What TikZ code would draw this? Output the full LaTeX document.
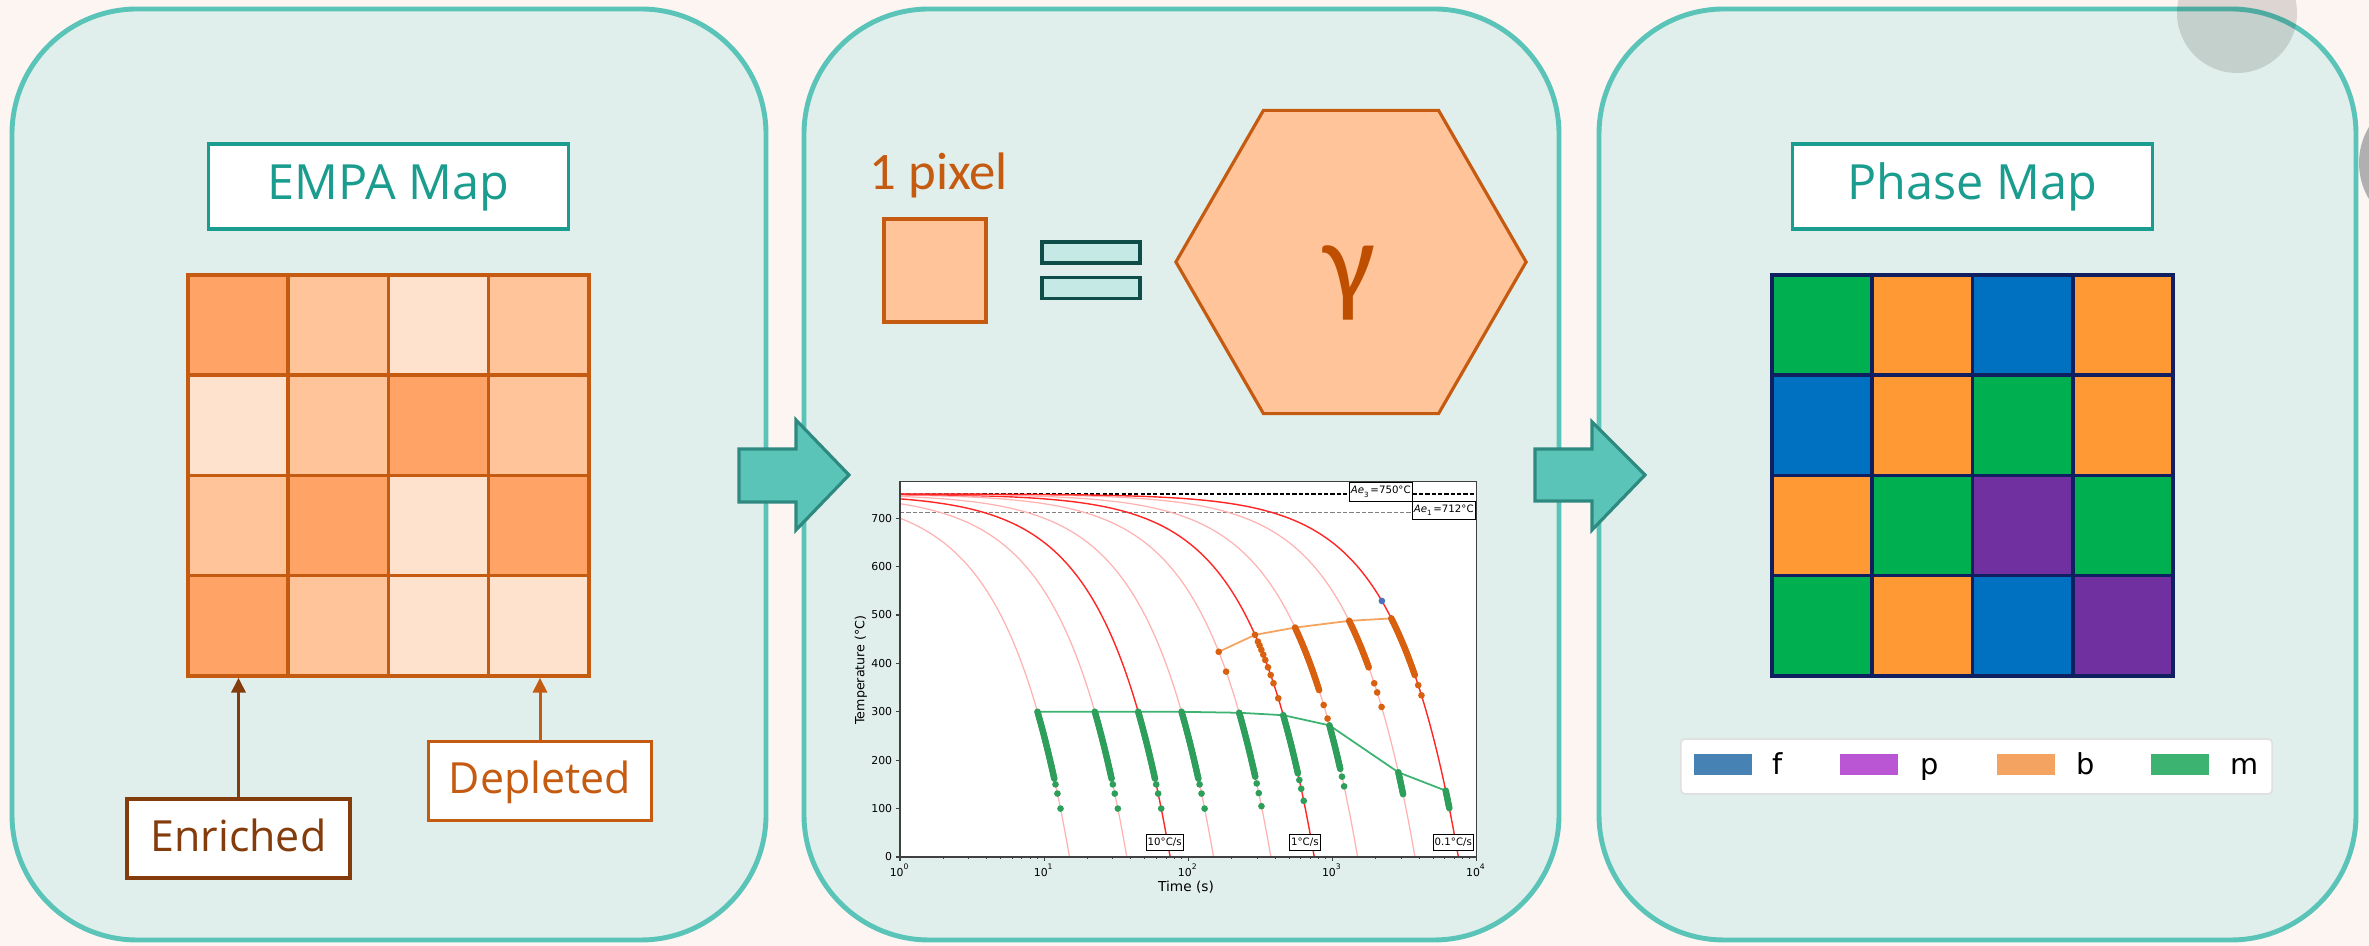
\documentclass[tikz,border=0pt]{standalone}
\usepackage{fontspec}
\setmainfont{Open Sans}
\newfontfamily\plotfont{DejaVu Sans}
\newfontfamily\pixfont{Carlito}
\usetikzlibrary{arrows.meta, shapes.geometric}

\definecolor{bgpink}{HTML}{FDF5F2}
\definecolor{panelfill}{HTML}{E0EFEB}
\definecolor{panelline}{HTML}{5BC4B8}
\definecolor{arrowline}{HTML}{2E8A80}
\definecolor{titleteal}{HTML}{1A9C8E}
\definecolor{emline}{HTML}{C55A11}
\definecolor{emd}{HTML}{FFA466}
\definecolor{emm}{HTML}{FFC49A}
\definecolor{eml}{HTML}{FFE2CE}
\definecolor{enrbrown}{HTML}{843C0C}
\definecolor{eqfill}{HTML}{C5EAE5}
\definecolor{eqline}{HTML}{0E4D48}
\definecolor{gammacol}{HTML}{BF4F00}
\definecolor{navy}{HTML}{0F1F5F}
\definecolor{phg}{HTML}{00B050}
\definecolor{pho}{HTML}{FF9933}
\definecolor{phb}{HTML}{0070C0}
\definecolor{php}{HTML}{7030A0}
\definecolor{keyf}{HTML}{4682B4}
\definecolor{keyp}{HTML}{BA55D3}
\definecolor{keyb}{HTML}{F4A460}
\definecolor{keym}{HTML}{3CB371}
\definecolor{mdotc}{HTML}{2E9E5B}
\definecolor{bdotc}{HTML}{D9600F}
\definecolor{fdotc}{HTML}{4A72B8}

\begin{document}
\begin{tikzpicture}[x=0.01cm, y=0.01cm,
  panel/.style={draw=panelline, fill=panelfill, line width=1.4pt, rounded corners=1.25cm},
  blockarrow/.style={draw=arrowline, fill=panelline, line width=0.9pt},
  titlebox/.style={draw=titleteal, fill=white, line width=0.9pt, text=titleteal,
    minimum width=3.59cm, minimum height=0.85cm, inner sep=0pt,
    text height=0.714em, text depth=0pt, font=\fontsize{13.8}{16}\selectfont},
  tagbox/.style={fill=white, line width=0.9pt, inner sep=0pt,
    minimum width=2.23cm, minimum height=0.79cm,
    text height=0.714em, text depth=0pt, font=\fontsize{12.2}{14}\selectfont},
  emcell/.style={draw=emline, line width=1pt, minimum size=1.0025cm, inner sep=0pt},
  phcell/.style={draw=navy, line width=1pt, minimum size=1.0025cm, inner sep=0pt},
  eqbar/.style={draw=eqline, fill=eqfill, line width=1pt, minimum width=0.98cm,
    minimum height=0.21cm, inner sep=0pt},
  keypatch/.style={minimum width=0.58cm, minimum height=0.21cm, inner sep=0pt},
  cool/.style={red!30, line width=0.35pt},
  coolmark/.style={red!85, line width=0.4pt},
  mdot/.style={fill=mdotc},
  bdot/.style={fill=bdotc},
  axisline/.style={black!75, line width=0.3pt},
  plotbox/.style={draw=black, fill=white, line width=0.25pt, inner sep=0.5pt,
    font=\plotfont\fontsize{2.9}{3}\selectfont},
  ticklbl/.style={font=\plotfont\fontsize{3.1}{3.5}\selectfont, inner sep=0.6pt}
]
  \useasboundingbox (0,0) rectangle (2369,946);
  \clip (0,0) rectangle (2369,946);

  % fondo
  \fill[bgpink] (0,0) rectangle (2369,946);

  % pannelli
  \draw[panel] (12,6) rectangle (766,937);
  \draw[panel] (804,6) rectangle (1559,937);
  \draw[panel] (1599,6) rectangle (2356,937);

  % cerchi grigi
  \fill[black, opacity=0.13] (2237,933) circle (60);
  \fill[black!31] (2429,783) circle (70);

  % EMPA map
  \node[titlebox] (empa) at (388.5,759.5) {EMPA Map};
  \foreach \row [count=\i] in {{d,m,l,m},{l,m,d,m},{m,d,l,d},{d,m,l,l}}
    \foreach \c [count=\j] in \row
      \node[emcell, fill=em\c] (e-\i-\j) at ({188+100.25*(\j-0.5)},{671-100.25*(\i-0.5)}) {};

  \node[tagbox, draw=enrbrown, text=enrbrown] (enr) at (238.5,107.5) {Enriched};
  \node[tagbox, draw=emline, text=emline] (dep) at (540,165) {Depleted};
  \draw[enrbrown, line width=0.85pt, -{Triangle[width=4pt,length=4.2pt]}] (enr.north) -- (enr.north |- e-4-1.south);
  \draw[emline, line width=0.85pt, -{Triangle[width=4pt,length=4.2pt]}] (dep.north) -- (dep.north |- e-4-4.south);

  % pixel = gamma
  \node[anchor=base west, inner sep=0pt, text=emline, font=\pixfont\fontsize{15}{18}\selectfont] (pixlbl) at (869,756) {1 pixel};
  \node[draw=emline, fill=emm, line width=0.9pt, minimum width=1.02cm, minimum height=1.03cm, inner sep=0pt] (pix) at (935,675.5) {};
  \node[eqbar] (eqtop) at (1091,693.5) {};
  \node[eqbar] (eqbot) at (1091,658) {};
  \node[regular polygon, regular polygon sides=6, minimum size=3.5cm, inner sep=0pt,
    draw=emline, fill=emm, line width=0.9pt] (hex) at (1351,684) {};
  \node[anchor=base, inner sep=0pt, text=gammacol, font=\pixfont\fontsize{33}{33}\selectfont] (gam) at (1349,644) {γ};

  % grafico CCT
  \begin{scope}[shift={(900,89)}, x=1.44cm, y=0.004843cm]
    \fill[white] (0,0) rectangle (4,775);
    \draw[black, line width=0.5pt, dash pattern=on 1.2pt off 0.6pt] (0,750) -- (4,750);
    \draw[gray, line width=0.5pt, dash pattern=on 1.2pt off 0.6pt] (0,712) -- (4,712);

    \foreach \r/\s in {50/cool, 20/cool, 10/coolmark, 5/cool, 2/cool, 1/coolmark, 0.5/cool, 0.2/cool, 0.1/coolmark} {
      \pgfmathsetmacro\tend{log10(750/\r)}
      \draw[\s] plot[domain=0:\tend, samples=120, smooth] (\x,{750-\r*10^\x});
    }

    \foreach \r/\T [count=\i] in {50/300, 20/300, 10/300, 5/300, 2/298, 1/293, 0.5/272, 0.2/175, 0.1/137}
      \coordinate (ms\i) at ({log10((750-\T)/\r)},\T);
    \foreach \r/\T [count=\i] in {2/424, 1/459, 0.5/474, 0.2/488, 0.1/493}
      \coordinate (bs\i) at ({log10((750-\T)/\r)},\T);
    \draw[keym, line width=0.5pt] (ms1) \foreach \i in {2,...,9} {-- (ms\i)};
    \draw[keyb, line width=0.5pt] (bs1) \foreach \i in {2,...,5} {-- (bs\i)};

    % martensite
    \foreach \r/\ta/\tb in {50/300/160, 20/300/160, 10/300/160, 5/300/160, 2/298/165, 1/293/172, 0.5/272/180, 0.2/175/128, 0.1/137/100} {
      \pgfmathtruncatemacro\n{(\ta-\tb)/3}
      \foreach \k in {0,...,\n}
        \fill[mdot] ({log10((750-\ta+3*\k)/\r)},{\ta-3*\k}) circle (0.95pt);
    }
    \foreach \r/\T in {50/150, 50/131, 50/100, 20/150, 20/131, 20/100, 10/150, 10/131, 10/100,
        5/150, 5/131, 5/100, 2/152, 2/132, 2/105, 1/159, 1/141, 1/116, 0.5/166, 0.5/146}
      \fill[mdot] ({log10((750-\T)/\r)},\T) circle (0.95pt);

    % bainite
    \foreach \r/\ta/\tb in {0.5/474/345, 0.2/488/390, 0.1/493/375} {
      \pgfmathtruncatemacro\n{(\ta-\tb)/3}
      \foreach \k in {0,...,\n}
        \fill[bdot] ({log10((750-\ta+3*\k)/\r)},{\ta-3*\k}) circle (0.95pt);
    }
    \foreach \r/\T in {2/424, 2/383, 1/459, 1/445, 1/437, 1/428, 1/418, 1/407, 1/392, 1/376, 1/359, 1/328,
        0.5/314, 0.5/286, 0.2/359, 0.2/340, 0.2/310, 0.1/355, 0.1/334}
      \fill[bdot] ({log10((750-\T)/\r)},\T) circle (0.95pt);

    % ferrite
    \fill[fdotc] ({log10((750-529)/0.1)},529) circle (0.95pt);

    % assi
    \draw[axisline] (0,0) rectangle (4,775);
    \foreach \k in {0,...,4} {
      \draw[axisline] (\k,0) -- ++(0pt,-1.2pt);
      \node[ticklbl, below] (xt\k) at (\k,-8) {10\textsuperscript{\k}};
    }
    \foreach \k in {0,...,3}
      \foreach \m in {2,...,9}
        \draw[axisline, line width=0.2pt] ({\k+log10(\m)},0) -- ++(0pt,-0.7pt);
    \foreach \T in {0,100,...,700} {
      \draw[axisline] (0,\T) -- ++(-1.2pt,0pt);
      \node[ticklbl, left] (yt\T) at (-0.035,\T) {\T};
    }

    \node[plotbox, minimum width=0.61cm, minimum height=0.19cm] (ae3) at (3.337,755) {{\itshape Ae}\textsubscript{3}=750°C};
    \node[plotbox, minimum width=0.63cm, minimum height=0.18cm] (ae1) at (3.774,716.5) {{\itshape Ae}\textsubscript{1}=712°C};
    \node[plotbox, minimum width=0.37cm, minimum height=0.16cm] (r10) at (1.837,31) {10°C/s};
    \node[plotbox, minimum width=0.30cm, minimum height=0.16cm] (r1) at (2.81,31) {1°C/s};
    \node[plotbox, minimum width=0.38cm, minimum height=0.16cm] (r01) at (3.84,31) {0.1°C/s};
  \end{scope}
  \node[rotate=90, inner sep=0pt, font=\plotfont\fontsize{3.6}{4}\selectfont] (ylab) at (861,276) {Temperature (°C)};
  \node[inner sep=0pt, font=\plotfont\fontsize{3.9}{5}\selectfont] (xlab) at (1186,59) {Time (s)};

  % Phase map
  \node[titlebox] (phase) at (1972.5,759.5) {Phase Map};
  \foreach \row [count=\i] in {{g,o,b,o},{b,o,g,o},{o,g,p,g},{g,o,b,p}}
    \foreach \c [count=\j] in \row
      \node[phcell, fill=ph\c] (p-\i-\j) at ({1772+100.25*(\j-0.5)},{671-100.25*(\i-0.5)}) {};

  % legenda
  \node[draw=black!12, fill=white, rounded corners=0.04cm, line width=0.5pt,
    minimum width=5.91cm, minimum height=0.55cm] (legend) at (1976.5,179.5) {};
  \foreach \nm/\px/\tx in {f/1723/1778, p/1869/1930, b/2025.5/2086, m/2180/2245} {
    \node[keypatch, fill=key\nm] (key-\nm) at (\px,181.5) {};
    \node[anchor=base, inner sep=0pt, font=\plotfont\fontsize{8.2}{9}\selectfont] (lbl-\nm) at (\tx,171) {\nm};
  }

  % frecce
  \draw[blockarrow] (739,497) -- (796,497) -- (796,526) -- (849,471) -- (796,416) -- (796,444) -- (739,444) -- cycle;
  \draw[blockarrow] (1535,497) -- (1592,497) -- (1592,524) -- (1645,471) -- (1592,416) -- (1592,445) -- (1535,445) -- cycle;
\end{tikzpicture}
\end{document}
